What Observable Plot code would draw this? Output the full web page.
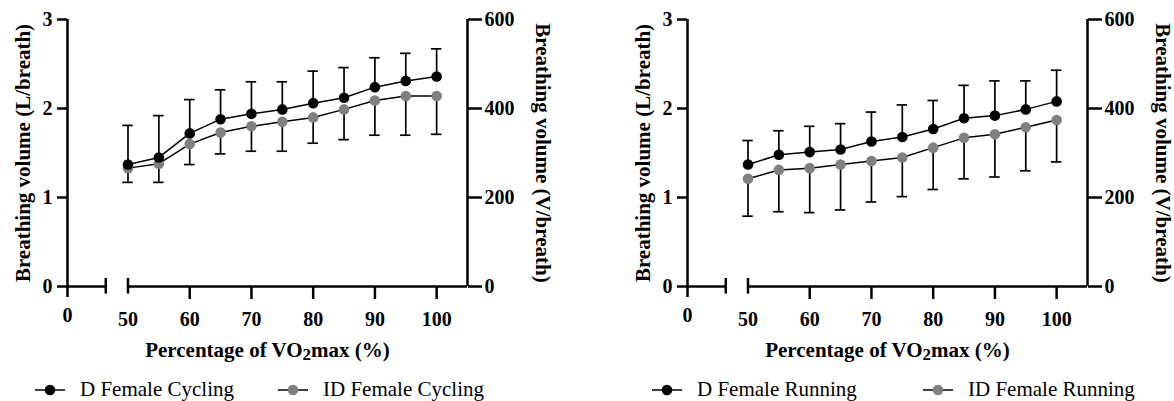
<!DOCTYPE html>
<html><head><meta charset="utf-8">
<script src="https://cdn.jsdelivr.net/npm/d3@7"></script>
<script src="https://cdn.jsdelivr.net/npm/@observablehq/plot@0.6"></script>
<style>
body{margin:0;background:#fff;font-family:"Liberation Serif","Times New Roman",serif;}
#wrap{display:flex;width:1174px;}
.panel{position:relative;}
.panel svg text{font-family:"Liberation Serif","Times New Roman",serif !important;font-weight:bold;}
.legend{position:relative;height:36px;}
.item{position:absolute;top:14px;display:flex;align-items:center;font-size:21px;line-height:21px;white-space:nowrap;color:#000;}
.item svg{margin-right:15px;display:block;}
</style></head><body><div id="wrap"></div><script>
// ---- data ----
const pct = [50, 55, 60, 65, 70, 75, 80, 85, 90, 95, 100];
const cyclingD     = [1.37, 1.45, 1.72, 1.88, 1.94, 1.99, 2.06, 2.12, 2.24, 2.31, 2.36];
const cyclingDUp   = [1.81, 1.92, 2.10, 2.21, 2.30, 2.30, 2.42, 2.46, 2.57, 2.62, 2.67];
const cyclingID    = [1.33, 1.38, 1.60, 1.73, 1.80, 1.85, 1.90, 1.99, 2.09, 2.14, 2.14];
const cyclingIDLo  = [1.17, 1.17, 1.37, 1.49, 1.52, 1.52, 1.61, 1.65, 1.70, 1.70, 1.71];
const runningD     = [1.37, 1.48, 1.51, 1.54, 1.63, 1.68, 1.77, 1.89, 1.92, 1.99, 2.08];
const runningDUp   = [1.64, 1.75, 1.80, 1.83, 1.96, 2.04, 2.09, 2.26, 2.31, 2.31, 2.43];
const runningID    = [1.21, 1.31, 1.33, 1.37, 1.41, 1.45, 1.56, 1.67, 1.71, 1.79, 1.87];
const runningIDLo  = [0.79, 0.84, 0.83, 0.86, 0.95, 1.01, 1.09, 1.21, 1.23, 1.30, 1.40];
const yTicks  = [0, 1, 2, 3];
const y2Ticks = [0, 200, 400, 600];
const xTicks  = [50, 60, 70, 80, 90, 100];
const xZeroLabel = "0";
const yTitle  = "Breathing volume (L/breath)";
const y2Title = "Breathing volume (V/breath)";
const xTitle  = "Percentage of VO\u2082max (%)";
const cyclingNames = ["D Female Cycling", "ID Female Cycling"];
const runningNames = ["D Female Running", "ID Female Running"];
const colorD = "#000000", colorID = "#808080";

// ---- layout ----
const ZERO = 40.2, SEG_END = 46.4, XMAX = 105;
const AX = 2.5;
const FONT = "Liberation Serif, Times New Roman, serif";

function makePanel(vD, vDUp, vID, vIDLo, names, width, mr, legendLefts) {
  const ratio = y2Ticks[y2Ticks.length - 1] / yTicks[yTicks.length - 1];
  const rowsD = pct.map((x, i) => ({x, y: vD[i], e: vDUp[i]}));
  const rowsI = pct.map((x, i) => ({x, y: vID[i], e: vIDLo[i]}));
  const capHalf = 0.85;
  const tickText = {fontSize: 20, fontWeight: "bold", fontFamily: FONT, label: null};
  const svg = Plot.plot({
    width, height: 365, marginLeft: 67, marginRight: mr, marginTop: 19, marginBottom: 79,
    x: {type: "linear", domain: [ZERO, XMAX], axis: null},
    y: {domain: [yTicks[0], yTicks[yTicks.length - 1]], axis: null},
    style: {fontFamily: FONT, fontWeight: "bold", fontSize: "20px", color: "#000", background: "#fff", overflow: "visible"},
    marks: [
      // axis lines
      Plot.ruleY([0], {x1: ZERO, x2: SEG_END, strokeWidth: AX}),
      Plot.ruleY([0], {x1: xTicks[0], x2: XMAX, strokeWidth: AX}),
      Plot.ruleX([ZERO], {y1: 0, y2: yTicks[yTicks.length - 1], strokeWidth: AX}),
      Plot.ruleX([XMAX], {y1: 0, y2: yTicks[yTicks.length - 1], strokeWidth: AX}),
      Plot.ruleX([SEG_END, xTicks[0]], {y1: -0.085, y2: 0.09, strokeWidth: AX}),
      // x ticks
      Plot.axisX({ticks: xTicks.slice(1), tickFormat: String, tickSize: 13, tickPadding: 12, strokeWidth: AX, ...tickText}),
      Plot.axisX({ticks: [xTicks[0]], tickFormat: String, tickSize: 0, tickPadding: 25, ...tickText}),
      Plot.axisX({ticks: [ZERO], tickFormat: () => xZeroLabel, tickSize: 11, tickPadding: 10, strokeWidth: AX, ...tickText}),
      // y ticks
      Plot.axisY({anchor: "left", ticks: yTicks, tickFormat: String, tickSize: 10, tickPadding: 5, strokeWidth: AX, ...tickText}),
      Plot.axisY({anchor: "right", ticks: y2Ticks.map(v => v / ratio), tickFormat: v => String(Math.round(v * ratio)), tickSize: 14, tickPadding: 3, strokeWidth: AX, ...tickText}),
      // titles
      Plot.text([yTitle], {frameAnchor: "left", textAnchor: "middle", lineAnchor: "middle", rotate: -90, dx: -44, fontSize: 21, fontWeight: "bold", fontFamily: FONT}),
      Plot.text([y2Title], {frameAnchor: "right", textAnchor: "middle", lineAnchor: "middle", rotate: 90, dx: 75, fontSize: 21, fontWeight: "bold", fontFamily: FONT}),
      Plot.text([xTitle], {frameAnchor: "bottom", textAnchor: "middle", lineAnchor: "middle", dy: 64, fontSize: 21, fontWeight: "bold", fontFamily: FONT}),
      // error bars
      Plot.ruleX(rowsI, {x: "x", y1: "e", y2: "y", stroke: "#000", strokeWidth: 1.7}),
      Plot.ruleY(rowsI, {y: "e", x1: d => d.x - capHalf, x2: d => d.x + capHalf, stroke: "#000", strokeWidth: 1.7}),
      Plot.ruleX(rowsD, {x: "x", y1: "y", y2: "e", stroke: "#000", strokeWidth: 1.7}),
      Plot.ruleY(rowsD, {y: "e", x1: d => d.x - capHalf, x2: d => d.x + capHalf, stroke: "#000", strokeWidth: 1.7}),
      // lines
      Plot.line(rowsI, {x: "x", y: "y", stroke: "#000", strokeWidth: 1.5}),
      Plot.line(rowsD, {x: "x", y: "y", stroke: "#000", strokeWidth: 1.5}),
      // dots
      Plot.dot(rowsI, {x: "x", y: "y", r: 5.3, fill: colorID, stroke: "none"}),
      Plot.dot(rowsD, {x: "x", y: "y", r: 5.3, fill: colorD, stroke: "none"})
    ]
  });
  // subscript styling of the "2" in VO2max
  svg.querySelectorAll("text").forEach(t => {
    if (t.textContent === xTitle) {
      const [a, b] = xTitle.split("\u2082");
      t.textContent = "";
      const ns = "http://www.w3.org/2000/svg";
      const s1 = document.createElementNS(ns, "tspan"); s1.textContent = a;
      const s2 = document.createElementNS(ns, "tspan"); s2.textContent = "2";
      s2.setAttribute("font-size", "17"); s2.setAttribute("dy", "3");
      const s3 = document.createElementNS(ns, "tspan"); s3.textContent = b; s3.setAttribute("dy", "-3");
      t.append(s1, s2, s3);
    }
  });
  const div = document.createElement("div");
  div.className = "panel";
  div.style.width = width + "px";
  div.appendChild(svg);
  const leg = document.createElement("div");
  leg.className = "legend";
  [[names[0], colorD], [names[1], colorID]].forEach(([name, col], i) => {
    const it = document.createElement("div");
    it.className = "item";
    it.style.left = legendLefts[i] + "px";
    it.innerHTML = `<svg width="30" height="12"><line x1="0" y1="6" x2="30" y2="6" stroke="#000" stroke-width="1.5"/><circle cx="15" cy="6" r="5.3" fill="${col}"/></svg><span>${name}</span>`;
    leg.appendChild(it);
  });
  div.appendChild(leg);
  return div;
}

const wrap = document.getElementById("wrap");
wrap.appendChild(makePanel(cyclingD, cyclingDUp, cyclingID, cyclingIDLo, cyclingNames, 620, 153, [35, 278]));
wrap.appendChild(makePanel(runningD, runningDUp, runningID, runningIDLo, runningNames, 554, 87, [32, 303]));
</script></body></html>
